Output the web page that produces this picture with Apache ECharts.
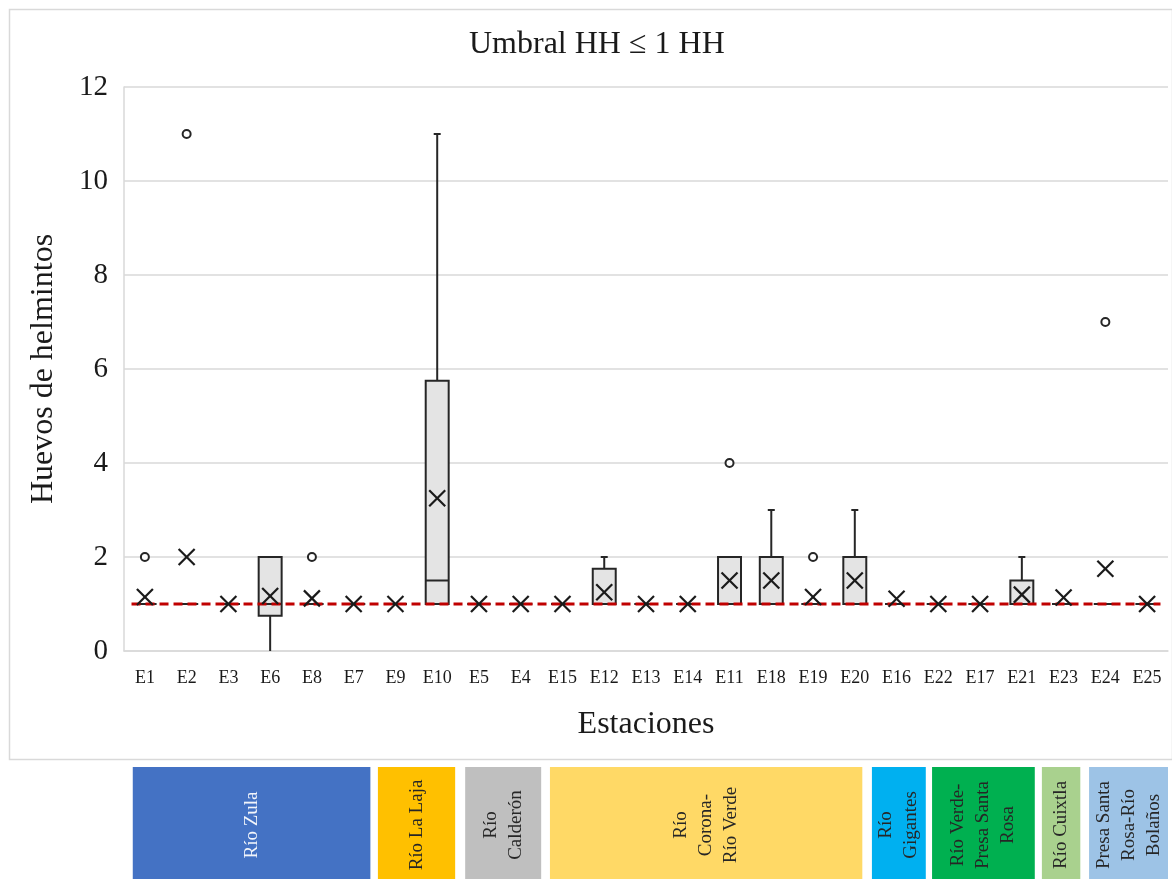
<!DOCTYPE html>
<html>
<head>
<meta charset="utf-8">
<title>Umbral HH ≤ 1 HH</title>
<script src="https://cdn.jsdelivr.net/npm/echarts@6/dist/echarts.min.js"></script>
<style>
  html, body { margin: 0; padding: 0; background: #ffffff; }
  #chart { width: 1172px; height: 879px; }
</style>
</head>
<body>
<div id="chart"></div>
<script>
// Stations, in the order they are plotted
const stations = ['E1','E2','E3','E6','E8','E7','E9','E10','E5','E4','E15','E12','E13','E14','E11','E18','E19','E20','E16','E22','E17','E21','E23','E24','E25'];

// Box-and-whisker statistics per station (helminth eggs)
const whiskerLow  = [1,1,1,0,   1,1,1,1,   1,1,1,1,   1,1,1,1,1,1,1,1,1,1,  1,1,1];
const quartile1   = [1,1,1,0.75,1,1,1,1,   1,1,1,1,   1,1,1,1,1,1,1,1,1,1,  1,1,1];
const medians     = [1,1,1,1,   1,1,1,1.5, 1,1,1,1,   1,1,1,1,1,1,1,1,1,1,  1,1,1];
const quartile3   = [1,1,1,2,   1,1,1,5.75,1,1,1,1.75,1,1,2,2,1,2,1,1,1,1.5,1,1,1];
const whiskerHigh = [1,1,1,2,   1,1,1,11,  1,1,1,2,   1,1,2,3,1,3,1,1,1,2,  1,1,1];
const means       = [1.15,2,1,1.17,1.12,1,1,3.25,1,1,1,1.25,1,1,1.5,1.5,1.15,1.5,1.11,1,1,1.2,1.14,1.75,1];

// Outlying observations [station, value]
const outliers = [['E1',2],['E2',11],['E8',2],['E11',4],['E19',2],['E24',7]];

// Threshold (HH per litre)
const threshold = 1;

// Value axis ticks
const yMin = 0, yMax = 12, yStep = 2;

// River segments below the plot: name and extent in station slots
const groupNames = ['Río Zula','Río La Laja','Río\nCalderón','Río\nCorona-\nRío Verde','Río\nGigantes','Río Verde-\nPresa Santa\nRosa','Río Cuixtla','Presa Santa\nRosa-Río\nBolaños'];
const groupStart = [0.21, 6.08, 8.17, 10.2, 17.91, 19.35, 21.98, 23.11];
const groupEnd   = [5.9,  7.93, 9.99, 17.68, 19.2, 21.81, 22.9, 25.0];

// Segment colours
const groupFill = ['#4472C4','#FFC000','#BFBFBF','#FFD966','#00B0F0','#00B050','#A9D18E','#9DC3E6'];
const groupInk  = ['#f2f5fb','#262626','#262626','#262626','#262626','#262626','#262626','#262626'];

const FONT = '"Liberation Serif", "Times New Roman", serif';
const INK = '#1a1a1a';
const GRID_LINE = '#d9d9d9';

const boxData = stations.map((s, i) => [i, whiskerLow[i], quartile1[i], medians[i], quartile3[i], whiskerHigh[i]]);
const meanData = stations.map((s, i) => [i, means[i]]);
const groupData = groupNames.map((n, i) => [groupStart[i], groupEnd[i], i]);

function renderBox(params, api) {
  const i = api.value(0);
  const lo = api.coord([i, api.value(1)]);
  const b1 = api.coord([i, api.value(2)]);
  const md = api.coord([i, api.value(3)]);
  const b3 = api.coord([i, api.value(4)]);
  const hi = api.coord([i, api.value(5)]);
  const band = api.size([1, 0])[0];
  const hw = band * 0.275;
  const cap = 3.5;
  const x = b1[0];
  const line = { stroke: '#262626', lineWidth: 2 };
  const kids = [];
  if (api.value(5) > api.value(4)) {
    kids.push({ type: 'line', shape: { x1: x, y1: b3[1], x2: x, y2: hi[1] }, style: line });
    kids.push({ type: 'line', shape: { x1: x - cap, y1: hi[1], x2: x + cap, y2: hi[1] }, style: line });
  }
  if (api.value(1) < api.value(2)) {
    kids.push({ type: 'line', shape: { x1: x, y1: b1[1], x2: x, y2: lo[1] }, style: line });
  }
  kids.push({ type: 'rect', shape: { x: x - hw, y: b3[1], width: hw * 2, height: b1[1] - b3[1] },
              style: { fill: '#e4e4e4', stroke: '#262626', lineWidth: 2 } });
  kids.push({ type: 'line', shape: { x1: x - hw, y1: md[1], x2: x + hw, y2: md[1] }, style: line });
  return { type: 'group', children: kids };
}

function renderMean(params, api) {
  const p = api.coord([api.value(0), api.value(1)]);
  const h = 8;
  const st = { stroke: INK, lineWidth: 2.2 };
  return { type: 'group', children: [
    { type: 'line', shape: { x1: p[0] - h, y1: p[1] - h, x2: p[0] + h, y2: p[1] + h }, style: st },
    { type: 'line', shape: { x1: p[0] - h, y1: p[1] + h, x2: p[0] + h, y2: p[1] - h }, style: st }
  ]};
}

function renderThreshold(params, api) {
  const v = api.value(1);
  const a = api.coord([0, v]);
  const b = api.coord([stations.length - 1, v]);
  const ext = api.size([1, 0])[0] * 0.32;
  return { type: 'line', shape: { x1: a[0] - ext, y1: a[1], x2: b[0] + ext, y2: b[1] },
           style: { stroke: '#c00000', lineWidth: 3, lineDash: [9, 5] } };
}

function renderGroup(params, api) {
  const k = api.value(2);
  const tl = api.coord([api.value(0), 1]);
  const br = api.coord([api.value(1), 0]);
  return { type: 'group', children: [
    { type: 'rect', shape: { x: tl[0], y: tl[1], width: br[0] - tl[0], height: br[1] - tl[1] },
      style: { fill: groupFill[k] } },
    { type: 'text', x: (tl[0] + br[0]) / 2, y: (tl[1] + br[1]) / 2 + 2, rotation: Math.PI / 2,
      style: { text: groupNames[k], fill: groupInk[k], fontSize: 19, fontFamily: FONT,
               align: 'center', verticalAlign: 'middle', lineHeight: 25 } }
  ]};
}

const chart = echarts.init(document.getElementById('chart'), null, { renderer: 'canvas' });

chart.setOption({
  backgroundColor: '#ffffff',
  animation: false,
  title: {
    text: 'Umbral HH ≤ 1 HH',
    left: 464, top: 24,
    textStyle: { fontFamily: FONT, fontSize: 32, fontWeight: 'normal', color: INK }
  },
  graphic: [{
    type: 'rect', left: 7, top: 7, z: -10,
    shape: { width: 1163, height: 750 },
    style: { fill: 'none', stroke: GRID_LINE, lineWidth: 1.5 }
  }],
  grid: [
    { left: 124, top: 87, width: 1044, height: 564 },
    { left: 124, top: 767, width: 1044, height: 116 }
  ],
  xAxis: [{
    gridIndex: 0,
    type: 'category',
    data: stations,
    boundaryGap: true,
    name: 'Estaciones',
    nameLocation: 'middle',
    nameGap: 58,
    nameTextStyle: { fontFamily: FONT, fontSize: 32, color: INK },
    axisLine: { show: true, lineStyle: { color: GRID_LINE, width: 1.5 } },
    axisTick: { show: false },
    axisLabel: { fontFamily: FONT, fontSize: 18, color: INK, margin: 18, interval: 0 },
    splitLine: { show: false }
  }, {
    gridIndex: 1, type: 'value', min: 0, max: stations.length, show: false
  }],
  yAxis: [{
    gridIndex: 0,
    type: 'value',
    min: yMin, max: yMax, interval: yStep,
    name: 'Huevos de helmintos',
    nameLocation: 'middle',
    nameRotate: 90,
    nameGap: 64,
    nameTextStyle: { fontFamily: FONT, fontSize: 32, color: INK },
    axisLine: { show: true, lineStyle: { color: GRID_LINE, width: 1.5 } },
    axisTick: { show: false },
    axisLabel: { fontFamily: FONT, fontSize: 29, color: INK, margin: 16 },
    splitLine: { show: true, lineStyle: { color: GRID_LINE, width: 1.5 } }
  }, {
    gridIndex: 1, type: 'value', min: 0, max: 1, show: false
  }],
  series: [
    {
      name: 'Cajas', type: 'custom', xAxisIndex: 0, yAxisIndex: 0, z: 2,
      renderItem: renderBox, data: boxData,
      encode: { x: 0, y: [1, 2, 3, 4, 5] }
    },
    {
      name: 'Umbral', type: 'custom', xAxisIndex: 0, yAxisIndex: 0, z: 3,
      renderItem: renderThreshold, data: [[0, threshold]],
      encode: { x: 0, y: 1 }
    },
    {
      name: 'Media', type: 'custom', xAxisIndex: 0, yAxisIndex: 0, z: 4,
      renderItem: renderMean, data: meanData,
      encode: { x: 0, y: 1 }
    },
    {
      name: 'Atípicos', type: 'scatter', xAxisIndex: 0, yAxisIndex: 0, z: 4,
      symbol: 'circle', symbolSize: 8,
      itemStyle: { color: '#ffffff', borderColor: '#262626', borderWidth: 2, opacity: 1 },
      data: outliers
    },
    {
      name: 'Cuencas', type: 'custom', xAxisIndex: 1, yAxisIndex: 1, z: 1,
      renderItem: renderGroup, data: groupData, clip: false,
      encode: { x: [0, 1], y: 2 }
    }
  ]
});
</script>
</body>
</html>
